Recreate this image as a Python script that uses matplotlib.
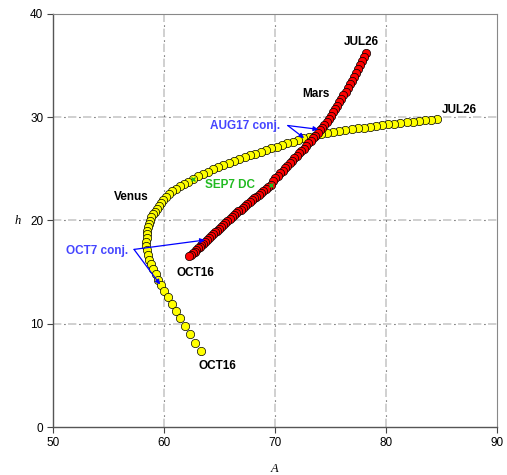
import matplotlib
matplotlib.use("Agg")
import matplotlib.pyplot as plt

plt.rcParams['lines.scale_dashes'] = False

# ---------------- data (daily positions JUL26 .. OCT16) ----------------
venus_A = [84.60, 84.05, 83.50, 82.95, 82.40, 81.85, 81.30, 80.75, 80.20, 79.65,
           79.10, 78.55, 78.00, 77.45, 76.90, 76.35, 75.80, 75.25, 74.70, 74.15,
           73.60, 73.08, 72.55, 72.07, 71.59, 71.11, 70.63, 70.15, 69.67, 69.19,
           68.71, 68.23, 67.75, 67.27, 66.79, 66.31, 65.83, 65.36, 64.89, 64.42,
           63.95, 63.50, 63.05, 62.60, 62.19, 61.80, 61.43, 61.07, 60.74, 60.46,
           60.20, 59.95, 59.71, 59.52, 59.35, 59.18, 59.02, 58.87, 58.78, 58.68,
           58.58, 58.49, 58.46, 58.43, 58.39, 58.42, 58.49, 58.56, 58.68, 58.82,
           59.01, 59.24, 59.49, 59.75, 60.03, 60.33, 60.69, 61.05, 61.44, 61.89,
           62.34, 62.79, 63.30]
venus_h = [29.85, 29.78, 29.72, 29.65, 29.58, 29.52, 29.45, 29.38, 29.31, 29.24,
           29.16, 29.08, 29.00, 28.92, 28.83, 28.73, 28.64, 28.54, 28.44, 28.33,
           28.22, 28.10, 27.96, 27.80, 27.64, 27.48, 27.32, 27.16, 26.99, 26.82,
           26.65, 26.48, 26.30, 26.12, 25.94, 25.75, 25.56, 25.37, 25.17, 24.96,
           24.74, 24.51, 24.27, 24.02, 23.76, 23.53, 23.30, 23.09, 22.84, 22.54,
           22.26, 22.00, 21.74, 21.45, 21.15, 20.87, 20.59, 20.31, 19.99, 19.68,
           19.36, 19.02, 18.67, 18.30, 17.92, 17.52, 17.10, 16.66, 16.22, 15.75,
           15.27, 14.78, 14.27, 13.75, 13.17, 12.55, 11.90, 11.27, 10.56, 9.78,
           9.00, 8.17, 7.36]

mars_A = [78.20, 78.02, 77.84, 77.66, 77.48, 77.30, 77.12, 76.93, 76.74, 76.55,
          76.36, 76.17, 75.98, 75.79, 75.60, 75.41, 75.22, 75.03, 74.84, 74.64,
          74.44, 74.24, 74.04, 73.83, 73.62, 73.41, 73.20, 72.99, 72.78, 72.57,
          72.36, 72.15, 71.94, 71.73, 71.52, 71.31, 71.10, 70.89, 70.68, 70.47,
          70.26, 70.04, 69.82, 69.60, 69.38, 69.17, 68.96, 68.75, 68.54, 68.33,
          68.12, 67.91, 67.71, 67.51, 67.31, 67.11, 66.91, 66.71, 66.51, 66.31,
          66.11, 65.91, 65.72, 65.53, 65.34, 65.15, 64.96, 64.77, 64.59, 64.41,
          64.23, 64.05, 63.87, 63.69, 63.53, 63.37, 63.22, 63.06, 62.90, 62.75,
          62.59, 62.44, 62.28]
mars_h = [36.19, 35.80, 35.41, 35.03, 34.65, 34.28, 33.91, 33.54, 33.18, 32.82,
          32.47, 32.12, 31.78, 31.44, 31.11, 30.79, 30.47, 30.16, 29.86, 29.56,
          29.27, 28.99, 28.75, 28.49, 28.23, 27.97, 27.72, 27.47, 27.22, 26.97,
          26.73, 26.49, 26.25, 26.01, 25.77, 25.53, 25.29, 25.05, 24.81, 24.57,
          24.33, 24.08, 23.83, 23.47, 23.26, 23.07, 22.88, 22.69, 22.50, 22.32,
          22.14, 21.96, 21.78, 21.60, 21.42, 21.24, 21.06, 20.88, 20.70, 20.52,
          20.34, 20.16, 19.97, 19.78, 19.59, 19.40, 19.21, 19.02, 18.84, 18.66,
          18.48, 18.30, 18.12, 17.93, 17.77, 17.61, 17.45, 17.29, 17.14, 16.99,
          16.85, 16.70, 16.56]

sep7_index = 43          # SEP7 DC
aug17_index = 22         # AUG17 conjunction
oct7_index = 73          # OCT7 conjunction

x_ticks = [50, 60, 70, 80, 90]
y_ticks = [0, 10, 20, 30, 40]

# ---------------- figure ----------------
fig = plt.figure(figsize=(5.07, 4.75), dpi=100)
ax = fig.add_axes([53/507, 1-427/475, (497-53)/507, (427-14)/475])
ax.set_xlim(50, 90)
ax.set_ylim(0, 40)

# grid: light grey dashes with small black dots in the gaps
for xv in x_ticks[1:-1]:
    ax.axvline(xv, color='#c4c4c4', lw=1.1, ls=(0, (6.0, 4.8)), zorder=0.5)
    ax.axvline(xv, color='#222222', lw=0.8, ls=(2.9, (0.7, 10.1)), zorder=0.6)
for yv in y_ticks[1:-1]:
    ax.axhline(yv, color='#c4c4c4', lw=1.1, ls=(0, (6.0, 4.8)), zorder=0.5)
    ax.axhline(yv, color='#222222', lw=0.8, ls=(2.9, (0.7, 10.1)), zorder=0.6)

# series
ax.plot(venus_A, venus_h, ls='none', marker='o', ms=6.0, mfc='#ffff00',
        mec='black', mew=0.5, zorder=3)
ax.plot(mars_A, mars_h, ls='none', marker='o', ms=6.0, mfc='#ff0000',
        mec='black', mew=0.5, zorder=4)

# SEP7 DC markers
ax.plot([venus_A[sep7_index], mars_A[sep7_index]],
        [venus_h[sep7_index], mars_h[sep7_index]], ls='none', marker='x',
        ms=3.5, mew=1.0, color='#22bb22', zorder=5)

# ticks / spines
ax.set_xticks(x_ticks)
ax.set_yticks(y_ticks)
ax.tick_params(direction='out', length=4, width=0.8, color='#444444',
               labelsize=8.5, pad=3)
for lab in ax.get_xticklabels() + ax.get_yticklabels():
    lab.set_fontfamily('Liberation Sans')
for s in ['left', 'bottom']:
    ax.spines[s].set_color('#555555')
    ax.spines[s].set_linewidth(1.0)
for s in ['top', 'right']:
    ax.spines[s].set_color('#888888')
    ax.spines[s].set_linewidth(0.8)

ax.set_xlabel('A', fontfamily='Liberation Serif', style='italic', fontsize=9,
              labelpad=10)
ax.text(-0.08, 0.5, 'h', transform=ax.transAxes, fontfamily='Liberation Serif',
        style='italic', fontsize=9, ha='center', va='center')

# labels
bold = dict(fontfamily='Liberation Sans', fontweight='bold', fontsize=8.5,
            ha='center', va='center', zorder=6)
ax.text(77.75, 37.3, 'JUL26', color='black', **bold)
ax.text(73.65, 32.3, 'Mars', color='black', **bold)
ax.text(86.6, 30.7, 'JUL26', color='black', **bold)
ax.text(57.05, 22.3, 'Venus', color='black', **bold)
ax.text(62.8, 14.95, 'OCT16', color='black', **bold)
ax.text(64.8, 5.9, 'OCT16', color='black', **bold)
ax.text(65.95, 23.47, 'SEP7 DC', color='#22bb22', **bold)
ax.text(67.3, 29.18, 'AUG17 conj.', color='#4444ff', **bold)
ax.text(53.93, 17.07, 'OCT7 conj.', color='#4444ff', **bold)

arrow = dict(arrowstyle='-|>', color='#0000ff', lw=0.9, mutation_scale=7,
             shrinkA=0, shrinkB=0)
aug_start = (71.15, 29.2)
ax.annotate('', xy=(73.9, 28.83), xytext=aug_start, arrowprops=arrow, zorder=7)
ax.annotate('', xy=(72.62, 27.98), xytext=aug_start, arrowprops=arrow, zorder=7)
oct_start = (57.3, 17.2)
ax.annotate('', xy=(63.69, 18.11), xytext=oct_start, arrowprops=arrow, zorder=7)
ax.annotate('', xy=(59.65, 13.8), xytext=oct_start, arrowprops=arrow, zorder=7)

fig.savefig('out.png', dpi=100)
